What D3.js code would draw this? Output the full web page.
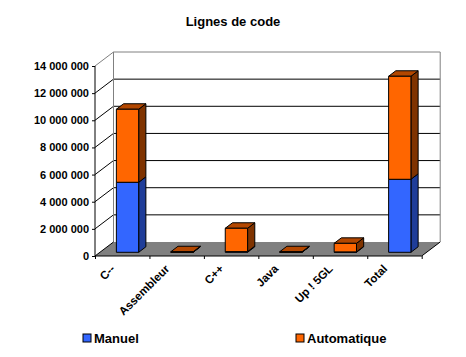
<!DOCTYPE html>
<meta charset="utf-8">
<style>
  html, body { margin: 0; background: #fff; }
  text { font-family: "Liberation Sans", Arial, sans-serif; font-weight: bold; fill: #000; }
</style>
<body>
<svg></svg>
<script src="https://d3js.org/d3.v7.min.js"></script>
<script>
var categories = ["C--", "Assembleur", "C++", "Java", "Up ! 5GL", "Total"];
var manuel = [5160000, 10000, 50000, 10000, 30000, 5380000];
var automatique = [5380000, 30000, 1720000, 30000, 630000, 7590000];
var yTicks = [0, 2000000, 4000000, 6000000, 8000000, 10000000, 12000000, 14000000];

var width = 466, height = 357;
var x0 = 95, x1 = 421.7, y0 = 256, y1 = 66;
var wallDx = 18.5, wallDy = 14;   // depth of the floor
var barDx = 5.3, barDy = 3.7;     // where the bars sit on the floor
var depthX = 7.2, depthY = 5.5;   // depth of a bar

var svg = d3.select("svg").attr("width", width).attr("height", height)
  .style("display", "block");

var x = d3.scaleBand().domain(categories).range([x0, x1]).paddingInner(0.59).paddingOuter(0.295);
var y = d3.scaleLinear().domain([0, 14000000]).range([y0, y1]);
var fmt = d3.formatLocale({ decimal: ",", thousands: " ", grouping: [3], currency: ["", ""] }).format(",d");

// floor
svg.append("polygon")
  .attr("points", [[x0, y0], [x1, y0], [x1 + wallDx, y0 - wallDy], [x0 + wallDx, y0 - wallDy]].join(" "))
  .attr("fill", "#808080");

// grid lines on side wall and back wall
yTicks.slice(1).forEach(function (t) {
  var c = t == 14000000 ? "#808080" : "#000";
  svg.append("path")
    .attr("d", "M" + x0 + "," + y(t) + "L" + (x0 + wallDx) + "," + (y(t) - wallDy) + "H" + (x1 + wallDx))
    .attr("fill", "none").attr("stroke", c).attr("stroke-width", 1);
});
// wall edges
svg.append("path")
  .attr("d", "M" + (x0 + wallDx) + "," + (y(0) - wallDy) + "V" + (y1 - wallDy))
  .attr("fill", "none").attr("stroke", "#808080");
svg.append("path")
  .attr("d", "M" + (x1 + wallDx) + "," + (y(0) - wallDy) + "V" + (y1 - wallDy))
  .attr("fill", "none").attr("stroke", "#808080");
svg.append("path")
  .attr("d", "M" + x0 + "," + y0 + "L" + (x0 + wallDx) + "," + (y0 - wallDy))
  .attr("fill", "none").attr("stroke", "#000");
svg.append("path")
  .attr("d", "M" + x1 + "," + y0 + "L" + (x1 + wallDx) + "," + (y0 - wallDy))
  .attr("fill", "none").attr("stroke", "#000");

// 3d box, front face from value a to value b
function box(g, left, a, b, front, side, top) {
  var w = x.bandwidth();
  var l = left + barDx, r = l + w;
  var yb = y(a) - barDy, yt = y(b) - barDy;
  var st = { stroke: "#000", "stroke-width": 1, "stroke-linejoin": "round" };
  function face(pts, fill) {
    var p = g.append("polygon").attr("points", pts.join(" ")).attr("fill", fill);
    Object.keys(st).forEach(function (k) { p.attr(k, st[k]); });
  }
  face([[r, yb], [r + depthX, yb - depthY], [r + depthX, yt - depthY], [r, yt]], side);
  if (top) face([[l, yt], [r, yt], [r + depthX, yt - depthY], [l + depthX, yt - depthY]], top);
  face([[l, yb], [r, yb], [r, yt], [l, yt]], front);
}

var bars = svg.append("g");
categories.forEach(function (c, i) {
  var left = x(c), m = manuel[i], a = automatique[i];
  box(bars, left, 0, m, "#3366ff", "#1f3d99", null);
  box(bars, left, m, m + a, "#ff6600", "#7f3300", "#b34700");
});

// axes
var yAxis = d3.axisLeft(y).tickValues(yTicks).tickFormat(fmt).tickSize(3).tickPadding(3);
var gy = svg.append("g").attr("transform", "translate(" + x0 + ",0)").call(yAxis);
gy.selectAll("text").attr("font-size", 11).style("font-family", null);
gy.selectAll("path,line").attr("stroke", "#000");
gy.select(".domain").attr("d", "M0," + y1 + "V" + y0);

var xEdge = d3.scaleLinear().domain([0, categories.length]).range([x0, x1]);
var gx = svg.append("g").attr("transform", "translate(0," + y0 + ")")
  .call(d3.axisBottom(xEdge).ticks(categories.length).tickSize(3).tickFormat(""));
gx.selectAll("path,line").attr("stroke", "#000");
gx.select(".domain").attr("d", "M" + x0 + ",0H" + x1);

svg.append("g").selectAll("text").data(categories).enter().append("text")
  .attr("text-anchor", "end")
  .attr("font-size", 11.5)
  .attr("transform", function (d, i) {
    return "translate(" + (xEdge(i + 0.5) - 6.5) + "," + (y0 + 13.5) + ")rotate(-45)";
  })
  .text(function (d) { return d; });

svg.append("text").attr("x", 233).attr("y", 26)
  .attr("text-anchor", "middle").attr("font-size", 13).text("Lignes de code");

// legend
var legendNames = ["Manuel", "Automatique"];
var legendColors = ["#3366ff", "#ff6600"];
var legendX = d3.scaleOrdinal().domain(legendNames).range([83, 296]);
var lg = svg.append("g").selectAll("g").data(legendNames).enter().append("g")
  .attr("transform", function (d) { return "translate(" + legendX(d) + ",334)"; });
lg.append("rect").attr("width", 8).attr("height", 8)
  .attr("fill", function (d, i) { return legendColors[i]; })
  .attr("stroke", "#000");
lg.append("text").attr("x", 11).attr("y", 9).attr("font-size", 13)
  .text(function (d) { return d; });
</script>
</body>
